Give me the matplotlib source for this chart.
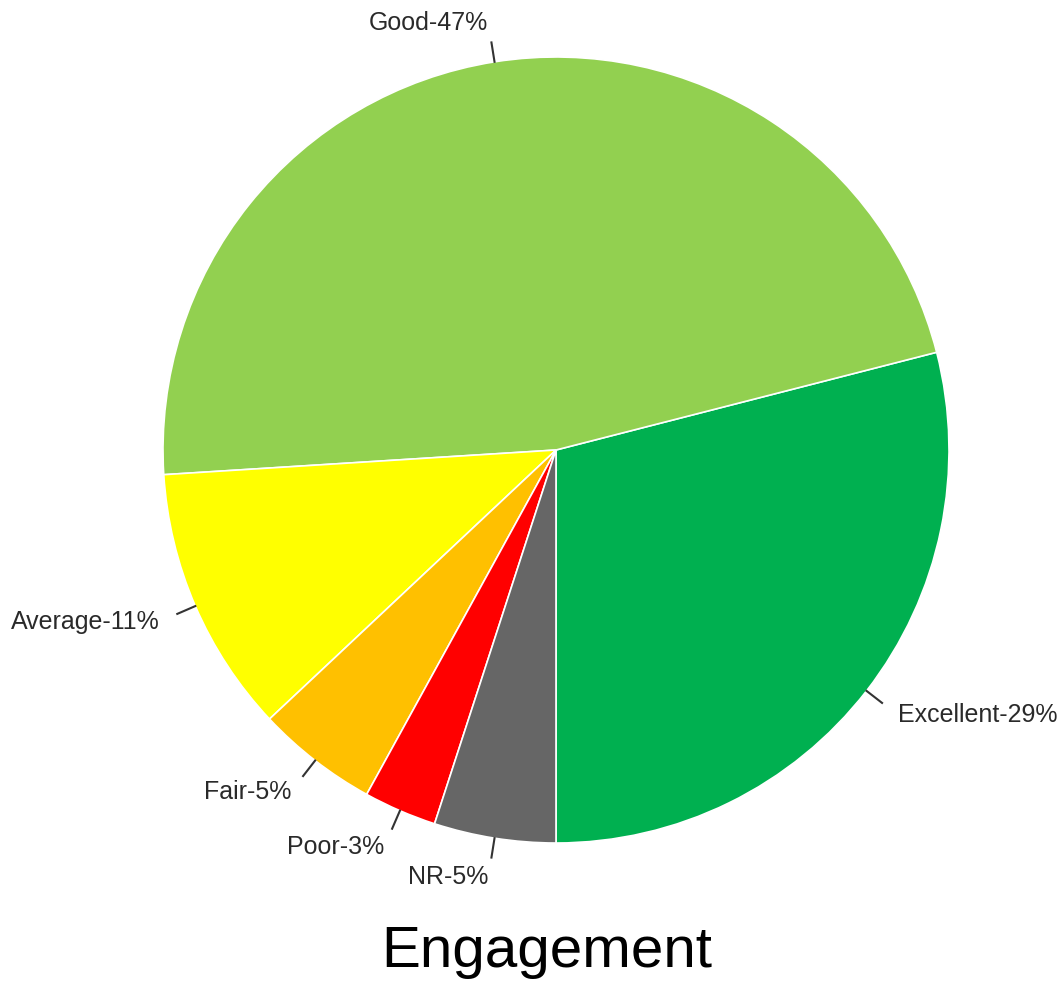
import matplotlib
matplotlib.use("Agg")
import matplotlib.pyplot as plt
import numpy as np

# ── Data ──────────────────────────────────────────────────────────────────────
categories = ["Excellent", "Good", "Average", "Fair", "Poor", "NR"]
percents   = [29, 47, 11, 5, 3, 5]
colors     = ["#00B050", "#92D050", "#FFFF00", "#FFC000", "#FF0000", "#666666"]
labels     = [f"{c}-{p}%" for c, p in zip(categories, percents)]

plt.rcParams["font.family"] = ["Liberation Sans", "DejaVu Sans"]

fig = plt.figure(figsize=(10.64, 9.86), dpi=100)
ax = fig.add_axes([0, 0, 1, 1])

wedges, texts = ax.pie(percents, labels=labels, colors=colors,
                       startangle=270, counterclock=True,
                       labeldistance=1.1,
                       wedgeprops=dict(edgecolor="white", linewidth=1.2),
                       textprops=dict(fontsize=18, color="#2a2a2a"))

# short tick marks from the rim towards each label
for w in wedges:
    mid = np.deg2rad((w.theta1 + w.theta2) / 2)
    ax.plot([np.cos(mid), 1.05 * np.cos(mid)],
            [np.sin(mid), 1.05 * np.sin(mid)],
            color="#333333", linewidth=1.5)

# pie centre at (556, 450) px, radius 393 px
r_px, cx, cy = 393, 556, 450
W, H = 1064, 986
ax.set_xlim(-cx / r_px, (W - cx) / r_px)
ax.set_ylim(-(H - cy) / r_px, cy / r_px)
ax.set_aspect("auto")
ax.axis("off")

fig.text(547 / W, 1 - 967 / H, "Engagement", ha="center", va="baseline",
         fontsize=42, color="black")

plt.savefig("out.png", dpi=100)
plt.close()
